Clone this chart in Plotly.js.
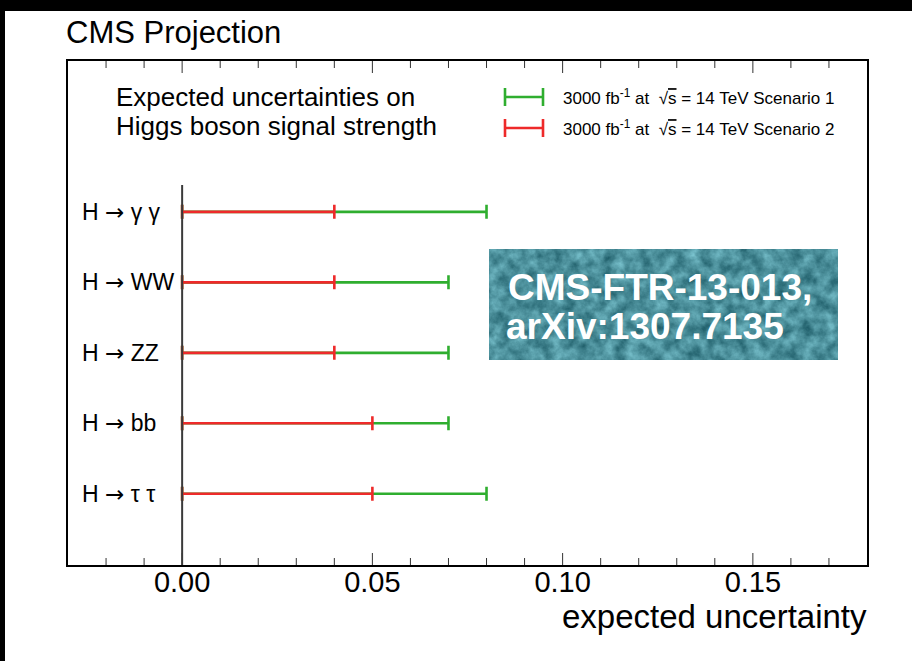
<!DOCTYPE html>
<html>
<head>
<meta charset="utf-8">
<script src="https://cdn.plot.ly/plotly-3.0.1.min.js"></script>
<style>
  html, body { margin: 0; padding: 0; background: #fff; width: 912px; height: 661px; overflow: hidden; }
  #topbar { position: absolute; left: 0; top: 0; width: 912px; height: 11px; background: #000; }
  #leftbar { position: absolute; left: 0; top: 0; width: 5px; height: 661px; background: #000; }
  #chart { position: absolute; left: 5px; top: 11px; width: 907px; height: 650px; background: #fff; }
</style>
</head>
<body>
<div id="chart"></div>
<div id="topbar"></div>
<div id="leftbar"></div>
<script>
// Decay channels, top to bottom
const ARROW = '<span style="font-family:DejaVu Sans">\u2192</span>';
const channels = ['H ' + ARROW + ' \u03b3 \u03b3', 'H ' + ARROW + ' WW', 'H ' + ARROW + ' ZZ', 'H ' + ARROW + ' bb', 'H ' + ARROW + ' \u03c4 \u03c4'];
// Expected relative uncertainty on signal strength, 3000 fb-1 at 14 TeV
const scenario1 = [0.08, 0.07, 0.07, 0.07, 0.08];
const scenario2 = [0.04, 0.04, 0.04, 0.05, 0.05];
// x axis: labelled every 0.05, minor marks every 0.01
const xMajorTicks = [0, 0.05, 0.10, 0.15];
const xMinorTicks = [-0.02, -0.01, 0.01, 0.02, 0.03, 0.04, 0.06, 0.07, 0.08, 0.09, 0.11, 0.12, 0.13, 0.14, 0.16, 0.17];
const xTickFormat = '.2f';

const GREEN = '#2fae2f';
const RED = '#ee2a2a';
const FONT = 'Liberation Sans, Arial, Helvetica, sans-serif';
const X_RANGE = [-0.03, 0.18];

function barTrace(values, color, xaxis) {
  return {
    type: 'scatter',
    mode: 'markers',
    xaxis: xaxis,
    x: values.map(() => 0),
    y: channels,
    marker: { size: 1, color: 'rgba(0,0,0,0)' },
    error_x: {
      type: 'data', symmetric: false,
      array: values, arrayminus: values.map(() => 0),
      color: color, thickness: 2.6, width: 7
    },
    showlegend: false,
    hoverinfo: 'skip'
  };
}

// scenario 2 sits on the overlay axis so it is drawn over scenario 1
const traces = [barTrace(scenario1, GREEN, 'x'), barTrace(scenario2, RED, 'x2')];

// page pixel -> paper fraction helpers (plot area spans 68..867 x 61..565 on the page)
const px = p => (p - 68) / 799;
const py = p => 1 - (p - 61) / 504;

// mottled teal backdrop for the reference label
const texture = "<svg xmlns='http://www.w3.org/2000/svg' width='349' height='111'>" +
  "<filter id='t' x='0' y='0' width='100%' height='100%' color-interpolation-filters='sRGB'>" +
  "<feTurbulence type='fractalNoise' baseFrequency='0.08' numOctaves='4' seed='7'/>" +
  "<feColorMatrix type='matrix' values='0.45 0 0 0 0.07  0.5 0 0 0 0.31  0.5 0 0 0 0.355  0 0 0 0 1'/>" +
  "</filter>" +
  "<rect width='349' height='111' fill='#4a8e99'/>" +
  "<rect width='349' height='111' filter='url(#t)'/></svg>";

const capH = 9 / 504;
function legendSample(y, color) {
  const line = { color: color, width: 2.6 };
  return [
    { type: 'line', xref: 'paper', yref: 'paper', x0: px(505), x1: px(543), y0: y, y1: y, line },
    { type: 'line', xref: 'paper', yref: 'paper', x0: px(505), x1: px(505), y0: y - capH, y1: y + capH, line },
    { type: 'line', xref: 'paper', yref: 'paper', x0: px(543), x1: px(543), y0: y - capH, y1: y + capH, line }
  ];
}

// tick marks pointing into the frame, on both bottom and top edges
function frameTicks(values, len) {
  const h = len / 504;
  const line = { color: '#333', width: 1 };
  return values.flatMap(v => [
    { type: 'line', xref: 'x', yref: 'paper', x0: v, x1: v, y0: 0, y1: h, line },
    { type: 'line', xref: 'x', yref: 'paper', x0: v, x1: v, y0: 1 - h, y1: 1, line }
  ]);
}

const legendLabel = n => '3000 fb<sup>-1</sup> at  \u221A<span style="text-decoration:overline">s</span> = 14 TeV Scenario ' + n;

// axis tick geometry kept for label spacing; the visible marks come from frameTicks
const HIDDEN = 'rgba(0,0,0,0)';
const tickStyle = { tickmode: 'array', tickvals: xMajorTicks, ticks: 'inside', ticklen: 12, tickwidth: 1.5, tickcolor: HIDDEN };
const minorStyle = { tickmode: 'array', tickvals: xMinorTicks, ticks: 'inside', ticklen: 7, tickwidth: 1.5, tickcolor: HIDDEN, showgrid: false };

// channel names, placed just inside the left frame at each category row
const channelLabels = channels.map(c => ({
  text: c, xref: 'paper', yref: 'y', x: px(80), y: c,
  xanchor: 'left', yanchor: 'middle', showarrow: false,
  font: { size: 23, family: FONT, color: '#000' }
}));

const layout = {
  width: 907,
  height: 650,
  margin: { l: 63, r: 45, t: 50, b: 96 },
  paper_bgcolor: '#ffffff',
  plot_bgcolor: '#ffffff',
  font: { family: FONT, color: '#000' },
  showlegend: false,
  xaxis: Object.assign({
    range: X_RANGE,
    tickformat: xTickFormat,
    minor: minorStyle,
    showline: true, linewidth: 2, linecolor: '#000', mirror: 'allticks',
    showgrid: false, zeroline: false,
    tickfont: { size: 29, family: FONT, color: '#000' },
    ticklabelstandoff: -10
  }, tickStyle),
  // overlay axis carrying scenario 2, same scale
  xaxis2: Object.assign({
    overlaying: 'x', side: 'top', anchor: 'y',
    range: X_RANGE,
    minor: minorStyle,
    showticklabels: false,
    showline: true, linewidth: 2, linecolor: '#000',
    showgrid: false, zeroline: false
  }, tickStyle),
  yaxis: {
    type: 'category',
    categoryorder: 'array', categoryarray: channels,
    range: [5.01, -2.14],
    ticks: '', showticklabels: false,
    showline: true, linewidth: 2, linecolor: '#000', mirror: true,
    showgrid: false, zeroline: false
  },
  shapes: [
    ...frameTicks(xMajorTicks, 12),
    ...frameTicks(xMinorTicks, 7),
    { type: 'line', xref: 'x', yref: 'y', x0: 0, x1: 0, y0: 5.01, y1: -0.38, layer: 'above',
      line: { color: '#3a3a3a', width: 2 } },
    ...legendSample(py(97), GREEN),
    ...legendSample(py(128), RED)
  ],
  images: [{
    source: 'data:image/svg+xml;charset=utf-8,' + encodeURIComponent(texture),
    xref: 'paper', yref: 'paper',
    x: px(489), y: py(249), sizex: px(838) - px(489), sizey: py(249) - py(360),
    xanchor: 'left', yanchor: 'top', sizing: 'stretch', layer: 'above'
  }],
  annotations: [
    ...channelLabels,
    { text: 'CMS Projection', xref: 'paper', yref: 'paper', x: px(64), y: py(33),
      xanchor: 'left', yanchor: 'middle', showarrow: false, font: { size: 31, family: FONT, color: '#000' } },
    { text: 'Expected uncertainties on', xref: 'paper', yref: 'paper', x: px(114), y: py(97),
      xanchor: 'left', yanchor: 'middle', showarrow: false, font: { size: 26, family: FONT, color: '#000' } },
    { text: 'Higgs boson signal strength', xref: 'paper', yref: 'paper', x: px(114), y: py(126),
      xanchor: 'left', yanchor: 'middle', showarrow: false, font: { size: 26, family: FONT, color: '#000' } },
    { text: legendLabel(1), xref: 'paper', yref: 'paper', x: px(561), y: py(97),
      xanchor: 'left', yanchor: 'middle', showarrow: false, font: { size: 17, family: FONT, color: '#000' } },
    { text: legendLabel(2), xref: 'paper', yref: 'paper', x: px(561), y: py(128),
      xanchor: 'left', yanchor: 'middle', showarrow: false, font: { size: 17, family: FONT, color: '#000' } },
    { text: 'expected uncertainty', xref: 'paper', yref: 'paper', x: px(869), y: py(616),
      xanchor: 'right', yanchor: 'middle', showarrow: false, font: { size: 33, family: FONT, color: '#000' } },
    { text: '<b>CMS-FTR-13-013,</b>', xref: 'paper', yref: 'paper', x: px(506), y: py(287),
      xanchor: 'left', yanchor: 'middle', showarrow: false, font: { size: 37, family: FONT, color: '#fff' } },
    { text: '<b>arXiv:1307.7135</b>', xref: 'paper', yref: 'paper', x: px(504), y: py(326),
      xanchor: 'left', yanchor: 'middle', showarrow: false, font: { size: 37, family: FONT, color: '#fff' } }
  ]
};

Plotly.newPlot('chart', traces, layout, { displayModeBar: false, staticPlot: true });
</script>
</body>
</html>
